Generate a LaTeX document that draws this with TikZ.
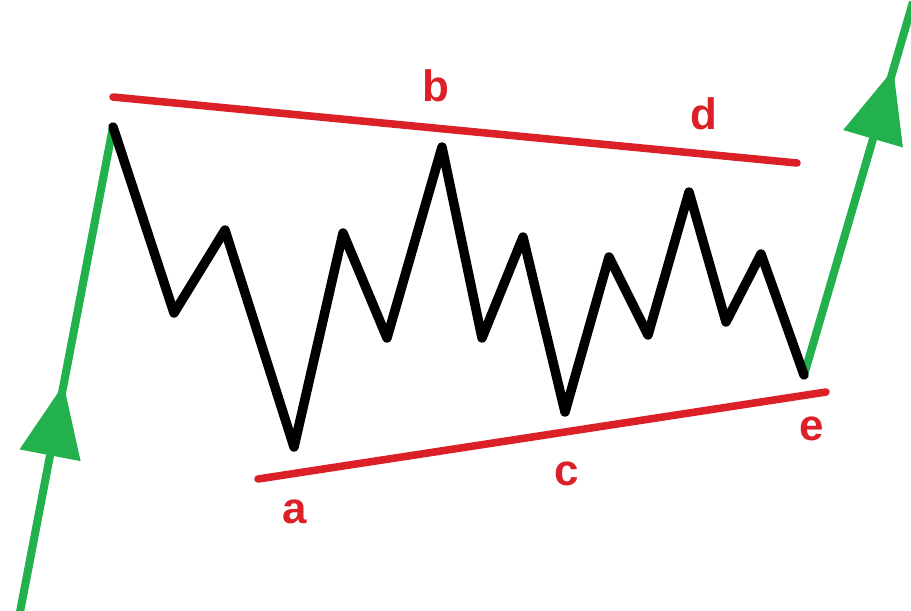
\documentclass[tikz,border=0pt]{standalone}
\usepackage{fontspec}
\setmainfont{Liberation Sans}
\usetikzlibrary{arrows.meta,decorations.markings}
\definecolor{trendred}{RGB}{220,32,40}
\definecolor{trendgreen}{RGB}{34,177,76}

\begin{document}
\begin{tikzpicture}[x=0.02cm,y=-0.02cm,
  bound/.style={trendred,line width=4.3pt,line cap=round},
  wave/.style={black,line width=5.4pt,line join=round,line cap=round},
  trend/.style={trendgreen,line width=4.6pt},
  tip/.style={postaction={decorate},decoration={markings,
      mark=at position #1 with {\arrow{Triangle[length=1.45cm,width=1.2cm]}}}},
  lbl/.style={trendred,font=\bfseries\fontsize{25}{30}\selectfont}]
  \useasboundingbox (0,0) rectangle (911,610);
  % points of the range
  \coordinate (in) at (20,612);
  \coordinate (top) at (113,127);
  \coordinate (e) at (804,375);
  \coordinate (out) at (913,2);
  % upper and lower bounds
  \draw[bound] (113,97)--(797,163);
  \draw[bound] (258,479)--(826,392);
  % green trend in and out
  \draw[trend,tip=.47] (in)--(top);
  \draw[trend,tip=.82] (e)--(out);
  % sideways swings
  \draw[wave] (top)--(174,313)--(225,230)--(294,447)--(343,233)--(387,338)
    --(442,147)--(482,338)--(523,237)--(565,412)--(609,257)--(648,335)
    --(689,192)--(726,322)--(761,254)--(e);
  \node[lbl] (b) at (436,86) {b};
  \node[lbl] (d) at (704,114) {d};
  \node[lbl] (a) at (295,512) {a};
  \node[lbl] (c) at (567,474) {c};
  \node[lbl] (el) at (812,429) {e};
\end{tikzpicture}
\end{document}
